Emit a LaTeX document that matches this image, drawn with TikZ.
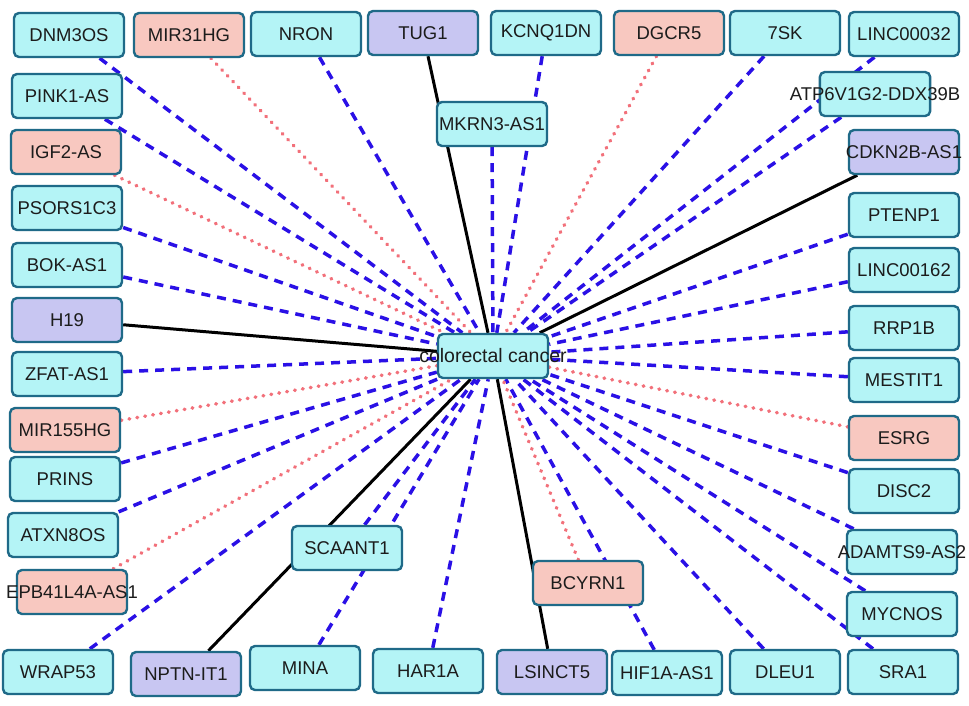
\documentclass[tikz,border=0pt]{standalone}
\usepackage{fontspec}
\setmainfont{Liberation Sans}
\usetikzlibrary{backgrounds}
\definecolor{cyanfill}{HTML}{B4F4F6}
\definecolor{pinkfill}{HTML}{F8C8C0}
\definecolor{purplefill}{HTML}{C8C6F2}
\definecolor{boxline}{HTML}{1F6A88}
\definecolor{edgeblue}{HTML}{2A10E6}
\definecolor{edgered}{HTML}{F2707A}
\definecolor{labeltext}{HTML}{1C1C1C}
\tikzset{
  gene/.style={draw=boxline, line width=2.4pt, rounded corners=5pt,
    minimum width=110pt, minimum height=44pt, inner xsep=-30pt, inner ysep=2pt,
    font=\fontsize{18.5}{20}\selectfont, text=labeltext},
  cyangene/.style={gene, fill=cyanfill},
  pinkgene/.style={gene, fill=pinkfill},
  purplegene/.style={gene, fill=purplefill},
  bluelink/.style={draw=edgeblue, line width=3.5pt, dash pattern=on 9pt off 7pt},
  redlink/.style={draw=edgered, line width=3.6pt, line cap=round, dash pattern=on 0.6pt off 7.4pt},
  blacklink/.style={draw=black, line width=3pt}
}
\begin{document}
\begin{tikzpicture}[x=1pt,y=-1pt]
\useasboundingbox (0,0) rectangle (969,705);
% centre
\node[cyangene, font=\fontsize{19.5}{21}\selectfont] (crc) at (493,356) {colorectal cancer};
% top row
\node[cyangene] (dnm) at (69,35) {DNM3OS};
\node[pinkgene] (mir31) at (189,35) {MIR31HG};
\node[cyangene] (nron) at (306,34) {NRON};
\node[purplegene] (tug) at (423,33) {TUG1};
\node[cyangene] (kcn) at (546,33) {KCNQ1DN};
\node[pinkgene] (dgcr) at (669,33) {DGCR5};
\node[cyangene] (sk) at (785,33) {7SK};
\node[cyangene] (l32) at (904,34) {LINC00032};
\node[cyangene] (mkrn) at (492,124) {MKRN3-AS1};
\node[cyangene] (atp) at (875,94) {ATP6V1G2-DDX39B};
\node[purplegene] (cdkn) at (904,152) {CDKN2B-AS1};
% left column
\node[cyangene] (pink) at (67,96) {PINK1-AS};
\node[pinkgene] (igf) at (66,152) {IGF2-AS};
\node[cyangene] (psor) at (67,208) {PSORS1C3};
\node[cyangene] (bok) at (67,265) {BOK-AS1};
\node[purplegene] (h19) at (67,320) {H19};
\node[cyangene] (zfat) at (67,374) {ZFAT-AS1};
\node[pinkgene] (mir155) at (65,430) {MIR155HG};
\node[cyangene] (prins) at (65,479) {PRINS};
\node[cyangene] (atxn) at (63,535) {ATXN8OS};
\node[pinkgene] (epb) at (72,592) {EPB41L4A-AS1};
\node[cyangene] (wrap) at (58,672) {WRAP53};
% bottom row
\node[purplegene] (nptn) at (186,674) {NPTN-IT1};
\node[cyangene] (mina) at (305,668) {MINA};
\node[cyangene] (har) at (428,671) {HAR1A};
\node[cyangene] (scaant) at (347,548) {SCAANT1};
\node[purplegene] (lsinct) at (552,672) {LSINCT5};
\node[cyangene] (hif) at (667,673) {HIF1A-AS1};
\node[cyangene] (dleu) at (785,672) {DLEU1};
\node[cyangene] (sra) at (903,672) {SRA1};
\node[pinkgene] (bcyrn) at (588,583) {BCYRN1};
\node[cyangene] (mycn) at (902,614) {MYCNOS};
\node[cyangene] (adamts) at (902,552) {ADAMTS9-AS2};
% right column
\node[cyangene] (pten) at (904,215) {PTENP1};
\node[cyangene] (l162) at (904,270) {LINC00162};
\node[cyangene] (rrp) at (904,328) {RRP1B};
\node[cyangene] (mest) at (904,380) {MESTIT1};
\node[pinkgene] (esrg) at (904,438) {ESRG};
\node[cyangene] (disc) at (904,491) {DISC2};
\begin{scope}[on background layer]
\fill[white] (0,0) rectangle (969,705);
\foreach \n in {dnm,nron,kcn,sk,l32,mkrn,atp,pink,psor,bok,zfat,prins,atxn,wrap,mina,har,scaant,hif,dleu,sra,mycn,adamts,pten,l162,rrp,mest,disc}
  \draw[bluelink] (\n) -- (crc);
\foreach \n in {mir31,dgcr,igf,mir155,epb,bcyrn,esrg}
  \draw[redlink] (\n) -- (crc);
\foreach \n in {tug,cdkn,h19,nptn,lsinct}
  \draw[blacklink] (\n) -- (crc);
\end{scope}
\end{tikzpicture}
\end{document}
